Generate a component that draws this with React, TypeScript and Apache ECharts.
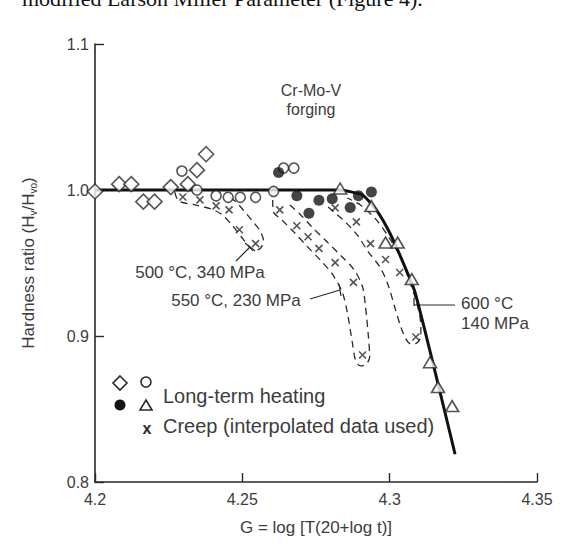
import React, { useEffect, useRef } from "react";
import * as echarts from "echarts";

// ---- axis ticks ----
const xTicks = [4.2, 4.25, 4.3, 4.35];
const yTicks = [0.8, 0.9, 1.0, 1.1];

// ---- long-term heating data ----
const diamondPts = [[4.2, 0.999], [4.2082, 1.004], [4.2123, 1.004], [4.2164, 0.992], [4.2202, 0.992], [4.2257, 1.002], [4.2315, 1.004], [4.2346, 1.0136], [4.2377, 1.0245]];
const openCirclePts = [[4.2295, 1.013], [4.2346, 1.0], [4.2411, 0.996], [4.2452, 0.995], [4.2493, 0.995], [4.2545, 0.995], [4.2606, 0.999], [4.264, 1.015], [4.2675, 1.015]];
const filledCirclePts = [[4.2623, 1.012], [4.2685, 0.996], [4.2726, 0.984], [4.276, 0.993], [4.2805, 0.994], [4.2866, 0.988], [4.2894, 0.996], [4.2938, 0.9986]];
const trianglePts = [[4.2832, 1.001], [4.2938, 0.989], [4.2986, 0.964], [4.3027, 0.964], [4.3075, 0.939], [4.3137, 0.882], [4.3164, 0.865], [4.3212, 0.852]];

// ---- creep data (interpolated) ----
const creep500 = [[4.2298, 0.9952], [4.2356, 0.9932], [4.2411, 0.9891], [4.2455, 0.9864], [4.249, 0.9728], [4.2545, 0.9633]];
const creep550 = [[4.2627, 0.9864], [4.2685, 0.9755], [4.2723, 0.968], [4.276, 0.96], [4.2815, 0.9503], [4.2877, 0.9367], [4.2908, 0.887]];
const creep600 = [[4.2815, 0.9878], [4.2887, 0.9782], [4.2935, 0.9633], [4.2986, 0.9524], [4.3034, 0.9435], [4.3089, 0.8993]];

// ---- master curve ----
const masterCurve = [[4.2, 1.0], [4.2829, 1.0], [4.2908, 0.9966], [4.2952, 0.987], [4.2993, 0.9735], [4.3027, 0.959], [4.3086, 0.93], [4.3222, 0.819]];

// ---- dashed envelopes around creep groups ----
const envelope500 = [[4.2271, 0.9986], [4.2284, 0.9925], [4.2342, 0.9897], [4.2394, 0.987], [4.2428, 0.9836], [4.2462, 0.9767], [4.2497, 0.9678], [4.2524, 0.961], [4.2541, 0.9582], [4.2562, 0.9603], [4.2572, 0.9651], [4.2558, 0.9726], [4.2531, 0.9795], [4.2503, 0.9863], [4.2479, 0.9918], [4.2455, 0.9952]];
const envelope550 = [[4.2603, 0.9932], [4.2606, 0.9849], [4.2634, 0.9795], [4.2675, 0.9712], [4.2719, 0.9616], [4.2764, 0.9521], [4.2805, 0.9425], [4.2839, 0.9301], [4.2856, 0.9164], [4.2873, 0.8959], [4.2884, 0.8836], [4.2901, 0.8795], [4.2921, 0.8808], [4.2932, 0.8856], [4.2928, 0.8993], [4.2918, 0.9199], [4.2908, 0.9336], [4.288, 0.9452], [4.2839, 0.9541], [4.2788, 0.9644], [4.2736, 0.9747], [4.2695, 0.9836], [4.2661, 0.9897]];
const envelope600 = [[4.2791, 0.9884], [4.2839, 0.9801], [4.2887, 0.9699], [4.2928, 0.9575], [4.2969, 0.9466], [4.2997, 0.9336], [4.3017, 0.9199], [4.3038, 0.9062], [4.3055, 0.898], [4.3072, 0.8945], [4.3092, 0.8952], [4.3106, 0.9], [4.3103, 0.913], [4.3089, 0.9247], [4.3068, 0.937], [4.3041, 0.9521], [4.3003, 0.9658], [4.2955, 0.9795], [4.2901, 0.9897], [4.2856, 0.9945]];

// ---- labels ----
const materialLabel = ["Cr-Mo-V", "forging"];
const condition500 = "500 °C, 340 MPa";
const condition550 = "550 °C, 230 MPa";
const condition600 = ["600 °C", "140 MPa"];
const legendLabels = ["Long-term heating", "Creep (interpolated data used)"];
const xAxisName = "G = log [T(20+log t)]";
const topCaption = "modified Larson Miller Parameter (Figure 4).";

const FONT = "'Liberation Sans', Arial, sans-serif";
const INK = "#2a2a2a";
const TEXT = "#3c3c3c";

export default function App() {
  const ref = useRef<HTMLDivElement>(null);

  useEffect(() => {
    document.body.style.margin = "0";
    const chart = echarts.init(ref.current!, undefined, { renderer: "svg" });

    const envelopeSeries = (data: number[][]) => ({
      type: "line",
      data,
      symbol: "none",
      smooth: 0.3,
      silent: true,
      lineStyle: { color: INK, width: 1.3, type: [7, 5] },
      z: 1,
    });

    const xSymbol = "path://M0,0L10,10M10,0L0,10";
    const creepSeries = (data: number[][]) => ({
      type: "scatter",
      data,
      symbol: xSymbol,
      symbolSize: 7,
      itemStyle: { color: "none", borderColor: INK, borderWidth: 1.6 },
      z: 4,
    });

    const openStyle = { color: "#ffffff", borderColor: INK, borderWidth: 1.6 };

    const option: any = {
      animation: false,
      backgroundColor: "#ffffff",
      grid: { left: 95, right: 45, top: 44, bottom: 68, containLabel: false },
      xAxis: {
        type: "value",
        min: xTicks[0],
        max: xTicks[xTicks.length - 1],
        interval: 0.05,
        name: xAxisName,
        nameLocation: "middle",
        nameGap: 37,
        nameTextStyle: { fontFamily: FONT, fontSize: 17, color: TEXT },
        axisLine: { lineStyle: { color: INK, width: 1.6 } },
        axisTick: { inside: true, length: 9, lineStyle: { color: INK, width: 1.4 } },
        axisLabel: {
          fontFamily: FONT,
          fontSize: 16,
          color: TEXT,
          margin: 9,
          formatter: (v: number) => String(parseFloat(v.toFixed(2))),
        },
        splitLine: { show: false },
      },
      yAxis: {
        type: "value",
        min: yTicks[0],
        max: yTicks[yTicks.length - 1],
        interval: 0.1,
        name: "Hardness ratio (H{s|v}/H{s|vo})",
        nameLocation: "middle",
        nameGap: 57,
        nameTextStyle: {
          fontFamily: FONT,
          fontSize: 17,
          color: TEXT,
          lineHeight: 20,
          rich: {
            s: { fontFamily: FONT, fontSize: 10, color: TEXT, verticalAlign: "bottom", lineHeight: 11 },
          },
        },
        axisLine: { lineStyle: { color: INK, width: 1.6 } },
        axisTick: { inside: true, length: 9, lineStyle: { color: INK, width: 1.4 } },
        axisLabel: {
          fontFamily: FONT,
          fontSize: 16,
          color: TEXT,
          margin: 6,
          formatter: (v: number) => v.toFixed(1),
        },
        splitLine: { show: false },
      },
      series: [
        envelopeSeries(envelope500),
        envelopeSeries(envelope550),
        envelopeSeries(envelope600),
        {
          type: "line",
          data: masterCurve,
          symbol: "none",
          smooth: 0.15,
          lineStyle: { color: "#111", width: 3 },
          z: 2,
        },
        creepSeries(creep500),
        creepSeries(creep550),
        creepSeries(creep600),
        { type: "scatter", data: diamondPts, symbol: "diamond", symbolSize: 15, itemStyle: openStyle, z: 3 },
        { type: "scatter", data: openCirclePts, symbol: "circle", symbolSize: 10, itemStyle: openStyle, z: 3 },
        { type: "scatter", data: filledCirclePts, symbol: "circle", symbolSize: 11, itemStyle: { color: "#151515" }, z: 3 },
        { type: "scatter", data: trianglePts, symbol: "triangle", symbolSize: [13, 11], itemStyle: openStyle, z: 3 },
      ],
      graphic: [
        // partial caption at very top (cut off in the source)
        { type: "text", left: 22, top: -13, style: { text: topCaption, font: "22px 'Liberation Serif', 'DejaVu Serif', serif", fill: "#111" } },
        // material label
        { type: "text", x: 311, y: 90, style: { text: materialLabel[0], font: `16px ${FONT}`, fill: TEXT, align: "center", verticalAlign: "middle" } },
        { type: "text", x: 311, y: 109, style: { text: materialLabel[1], font: `16px ${FONT}`, fill: TEXT, align: "center", verticalAlign: "middle" } },
        // 500 °C label + leader
        { type: "text", x: 200, y: 272, style: { text: condition500, font: `17px ${FONT}`, fill: TEXT, align: "center", verticalAlign: "middle" } },
        { type: "line", shape: { x1: 236, y1: 261, x2: 250, y2: 247 }, style: { stroke: INK, lineWidth: 1.2 } },
        { type: "line", shape: { x1: 245, y1: 243, x2: 255, y2: 251 }, style: { stroke: INK, lineWidth: 1.2 } },
        // 550 °C label + leader
        { type: "text", x: 236, y: 300, style: { text: condition550, font: `17px ${FONT}`, fill: TEXT, align: "center", verticalAlign: "middle" } },
        { type: "line", shape: { x1: 310, y1: 299, x2: 340, y2: 290 }, style: { stroke: INK, lineWidth: 1.2 } },
        { type: "line", shape: { x1: 339, y1: 284, x2: 341, y2: 296 }, style: { stroke: INK, lineWidth: 1.2 } },
        // 600 °C label + leader
        { type: "text", x: 461, y: 303, style: { text: condition600[0], font: `17px ${FONT}`, fill: TEXT, align: "left", verticalAlign: "middle" } },
        { type: "text", x: 461, y: 323, style: { text: condition600[1], font: `17px ${FONT}`, fill: TEXT, align: "left", verticalAlign: "middle" } },
        { type: "line", shape: { x1: 414, y1: 305, x2: 455, y2: 305 }, style: { stroke: INK, lineWidth: 1.2 } },
        { type: "line", shape: { x1: 414, y1: 298, x2: 414, y2: 306 }, style: { stroke: INK, lineWidth: 1.2 } },
        // legend
        { type: "polygon", shape: { points: [[120, 376], [127, 383], [120, 390], [113, 383]] }, style: { fill: "#fff", stroke: INK, lineWidth: 1.6 } },
        { type: "circle", shape: { cx: 146, cy: 382, r: 5 }, style: { fill: "#fff", stroke: INK, lineWidth: 1.6 } },
        { type: "circle", shape: { cx: 120, cy: 405, r: 5.5 }, style: { fill: "#151515" } },
        { type: "polygon", shape: { points: [[146, 400], [152, 410], [140, 410]] }, style: { fill: "#fff", stroke: INK, lineWidth: 1.6 } },
        { type: "text", x: 147, y: 428, style: { text: "x", font: `bold 16px ${FONT}`, fill: INK, align: "center", verticalAlign: "middle" } },
        { type: "text", x: 163, y: 396, style: { text: legendLabels[0], font: `20px ${FONT}`, fill: TEXT, align: "left", verticalAlign: "middle" } },
        { type: "text", x: 163, y: 426, style: { text: legendLabels[1], font: `20px ${FONT}`, fill: TEXT, align: "left", verticalAlign: "middle" } },
      ],
    };

    chart.setOption(option);
    return () => chart.dispose();
  }, []);

  return <div ref={ref} style={{ position: "fixed", left: 0, top: 0, width: 582, height: 550 }} />;
}
